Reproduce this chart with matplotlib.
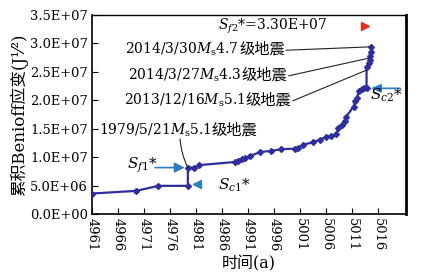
import matplotlib
matplotlib.use("Agg")
import matplotlib.pyplot as plt
import matplotlib.ticker as mticker

plt.rcParams["font.family"] = ["DejaVu Serif", "Noto Sans CJK SC"]
plt.rcParams["mathtext.fontset"] = "dejavuserif"

# ── Data (years are shown on the chart with a +3000 offset) ──
years = [4961.0, 4969.5, 4973.7, 4979.4, 4979.4, 4980.6, 4981.6, 4988.4,
         4989.0, 4989.8, 4990.4, 4991.4, 4993.3, 4995.5, 4997.4, 5000.0,
         5000.6, 5001.6, 5003.5, 5004.8, 5006.0, 5007.0, 5008.0, 5008.4,
         5009.0, 5009.6, 5009.8, 5011.3, 5011.6, 5011.9, 5012.4, 5012.9,
         5013.4, 5013.8, 5013.8, 5014.2, 5014.5, 5014.5, 5014.7, 5014.7]
benioff = [3.6e6, 4.07e6, 4.95e6, 4.95e6, 8.16e6, 8.16e6, 8.6e6, 9.14e6,
           9.4e6, 9.74e6, 9.8e6, 1.02e7, 1.09e7, 1.11e7, 1.14e7, 1.15e7,
           1.16e7, 1.22e7, 1.26e7, 1.31e7, 1.35e7, 1.38e7, 1.40e7, 1.52e7,
           1.57e7, 1.63e7, 1.70e7, 1.89e7, 1.98e7, 2.04e7, 2.16e7, 2.19e7,
           2.21e7, 2.21e7, 2.58e7, 2.65e7, 2.71e7, 2.77e7, 2.85e7, 2.94e7]

xticks = list(range(4961, 5017, 5))
yticks = [0, 5e6, 1e7, 1.5e7, 2e7, 2.5e7, 3e7, 3.5e7]

sf1 = 8.16e6       # S_f1*
sc1 = 5.2e6        # S_c1*
sc2 = 2.21e7       # S_c2*
sf2 = 3.30e7       # S_f2*

# quake annotations: date part, magnitude, event point, text anchor (right end, baseline)
quakes = [
    ("2014/3/30", "4.7", (5014.7, 2.94e7), (4998.1, 2.82e7)),
    ("2014/3/27", "4.3", (5014.2, 2.74e7), (4998.6, 2.37e7)),
    ("2013/12/16", "5.1", (5013.8, 2.53e7), (4999.4, 1.93e7)),
]

CURVE = "#2e2f9c"
ARROW = "#2a7cc4"
FS = 9.4
FT = 10.0
CJK = ["Noto Sans CJK SC"]

fig = plt.figure(figsize=(4.21, 2.79), dpi=100)
ax = fig.add_axes([0.2192, 0.2330, 0.7452, 0.7133])
ax.set_xlim(4961, 5021.4)
ax.set_ylim(0, 3.5e7)
renderer = fig.canvas.get_renderer()


def two_part(x, y, date, mag, ha):
    """date+Ms+magnitude in mathtext, then the Chinese words in a CJK font."""
    math = f"{date}$M_{{\\rm s}}$" + mag
    if ha == "right":
        t = ax.text(x, y, "级地震", ha="right", va="baseline", fontsize=FT + 1, family=CJK)
        x0 = ax.transData.inverted().transform((t.get_window_extent(renderer).x0, 0))[0]
        ax.text(x0, y, math, ha="right", va="baseline", fontsize=FT)
    else:
        t = ax.text(x, y, math, ha="left", va="baseline", fontsize=FT)
        x1 = ax.transData.inverted().transform((t.get_window_extent(renderer).x1, 0))[0]
        ax.text(x1, y, "级地震", ha="left", va="baseline", fontsize=FT + 1, family=CJK)


ax.plot(years, benioff, color=CURVE, lw=1.6, marker="D", ms=3, zorder=3)

# thresholds
ax.plot(5013.5, sf2, marker=">", color="#e8302a", ms=6, ls="none")
ax.text(4995.8, sf2, "$S_{f2}$*=3.30E+07", fontsize=FT, ha="center", va="center")

ax.plot(4981.1, sc1, marker="<", color=ARROW, ms=6, ls="none")
ax.text(4988.3, 5.07e6, "$S_{c1}$*", fontsize=FT + 1, ha="center", va="center")

ax.annotate("", xy=(4978.8, sf1), xytext=(4973.1, sf1),
            arrowprops=dict(arrowstyle="-|>,head_length=0.6,head_width=0.3",
                            color=ARROW, lw=1.2, shrinkA=0, shrinkB=0))
ax.text(4970.6, 8.5e6, "$S_{f1}$*", fontsize=FT + 1, ha="center", va="center")

ax.annotate("", xy=(5014.6, sc2), xytext=(5020.3, sc2),
            arrowprops=dict(arrowstyle="-|>,head_length=0.6,head_width=0.25",
                            color=ARROW, lw=1.2, shrinkA=0, shrinkB=0))
ax.text(5017.6, 2.08e7, "$S_{c2}$*", fontsize=FT + 1, ha="center", va="center")

for date, mag, pt, txt in quakes:
    two_part(txt[0], txt[1], date, mag, "right")
    ax.annotate("", xy=pt, xytext=(txt[0] + 0.2, txt[1] + 6e5),
                arrowprops=dict(arrowstyle="-", color="#222222", lw=0.8,
                                shrinkA=0, shrinkB=0))

two_part(4962.3, 1.39e7, "1979/5/21", "5.1", "left")
ax.annotate("", xy=(4979.4, sf1), xytext=(4977.9, 1.32e7),
            arrowprops=dict(arrowstyle="-", color="#222222", lw=0.8,
                            shrinkA=0, shrinkB=0, connectionstyle="arc3,rad=0.1"))

# ── Axes ──
ax.set_xticks(xticks)
ax.set_yticks(yticks)
ax.yaxis.set_major_formatter(mticker.FuncFormatter(lambda v, _: f"{v:.1E}"))
ax.tick_params(axis="x", direction="in", length=4, labelsize=FS, rotation=-90, pad=3)
ax.tick_params(axis="y", direction="in", length=4, labelsize=FS, pad=3)
for side, lw in [("left", 1.2), ("bottom", 1.2), ("top", 1.0), ("right", 2.0)]:
    ax.spines[side].set_linewidth(lw)

ax.set_xlabel("时间(a)", fontsize=11.5, labelpad=3)
ax.set_ylabel("累积Benioff应变(J¹⁄²)", fontsize=12)
ax.yaxis.set_label_coords(-0.205, 0.5)

fig.savefig("out.png", dpi=100)
